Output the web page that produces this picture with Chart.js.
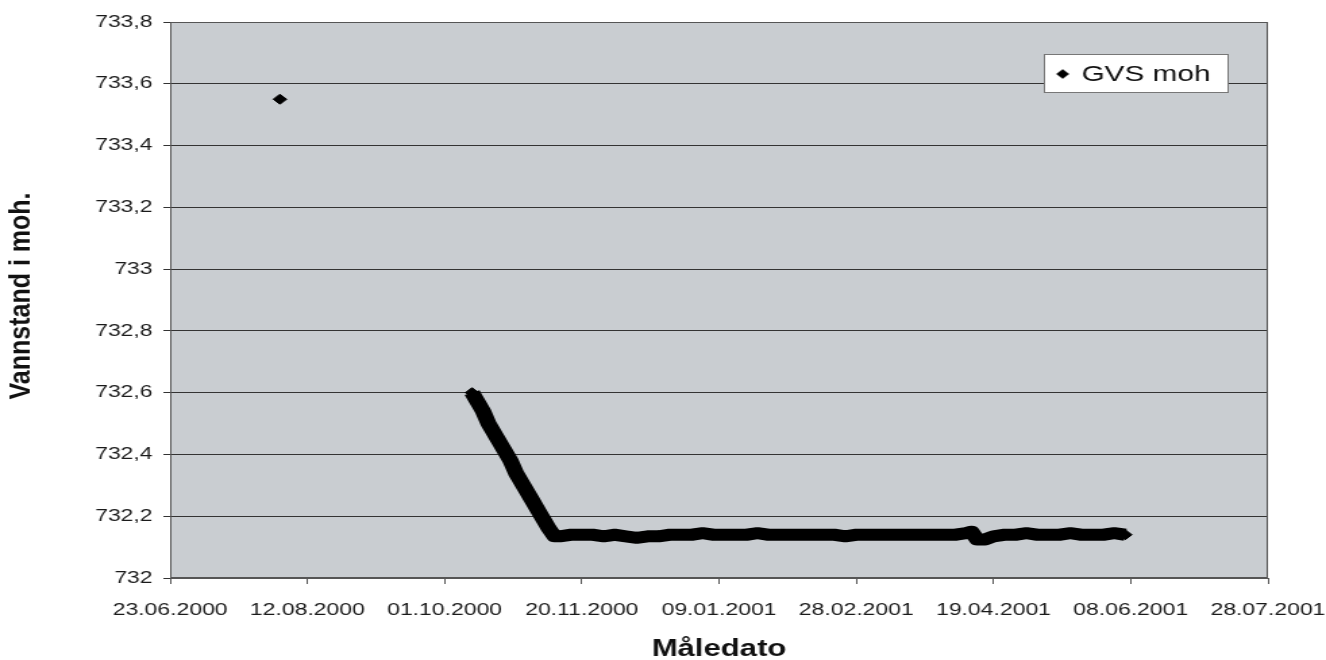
<!DOCTYPE html>
<html>
<head>
<meta charset="utf-8">
<script src="https://cdn.jsdelivr.net/npm/chart.js@4.4.1/dist/chart.umd.min.js"></script>
<style>
  html, body { margin: 0; padding: 0; background: #fff; overflow: hidden; }
  /* the scanned original is stretched sideways, so the chart is drawn narrow and widened */
  #wrap { width: 982px; height: 660px; transform: scaleX(1.3503); transform-origin: 0 0; }
</style>
</head>
<body>
<div id="wrap"><canvas id="gvsChart"></canvas></div>
<script>
// days counted from 23.06.2000
const xTickLabels = ['23.06.2000', '12.08.2000', '01.10.2000', '20.11.2000', '09.01.2001',
    '28.02.2001', '19.04.2001', '08.06.2001', '28.07.2001'];

const measureDays = [40, 75,
    110, 112, 114, 116, 118, 120, 122, 124, 126, 128, 130, 132, 134, 136, 138, 140,
    142, 146, 150, 154, 158, 162, 166, 170, 174, 178, 182, 186, 190, 194, 198, 202,
    206, 210, 214, 218, 222, 226, 230, 234, 238, 242, 246, 250, 254, 258, 262, 266,
    270, 274, 278, 282, 286, 290, 292, 294, 297, 300, 304, 308, 312, 316, 320, 324,
    328, 332, 336, 340, 344, 348];

const gvsLevels = [733.55, null,
    732.60, 732.57, 732.54, 732.50, 732.47, 732.44, 732.41, 732.38, 732.34, 732.31,
    732.28, 732.25, 732.22, 732.19, 732.16, 732.135,
    732.135, 732.14, 732.14, 732.14, 732.135, 732.14, 732.135, 732.13, 732.135, 732.135,
    732.14, 732.14, 732.14, 732.145, 732.14, 732.14, 732.14, 732.14, 732.145, 732.14,
    732.14, 732.14, 732.14, 732.14, 732.14, 732.14, 732.135, 732.14, 732.14, 732.14,
    732.14, 732.14, 732.14, 732.14, 732.14, 732.14, 732.14, 732.145, 732.15, 732.125,
    732.125, 732.135, 732.14, 732.14, 732.145, 732.14, 732.14, 732.14, 732.145, 732.14,
    732.14, 732.14, 732.145, 732.14];

const points = measureDays.map((d, i) => ({ x: d, y: gvsLevels[i] }));

const FONT = '"Liberation Sans", Arial, Helvetica, sans-serif';

// plot background + frame
const plotFrame = {
    id: 'plotFrame',
    beforeDraw(chart) {
        const { ctx, chartArea: a } = chart;
        ctx.save();
        ctx.fillStyle = '#c9cdd1';
        ctx.fillRect(a.left, a.top, a.right - a.left, a.bottom - a.top);
        ctx.restore();
    },
    afterDatasetsDraw(chart) {
        const { ctx, chartArea: a } = chart;
        ctx.save();
        ctx.strokeStyle = '#555';
        ctx.lineWidth = 1;
        ctx.strokeRect(a.left + 0.5, a.top + 0.5, a.right - a.left - 1, a.bottom - a.top - 1);
        ctx.restore();
    }
};

// legend box inside the plot (top right) and the y title
const extraText = {
    id: 'extraText',
    afterDraw(chart) {
        const ctx = chart.ctx;
        const ds = chart.data.datasets[0];
        ctx.save();
        ctx.fillStyle = '#fff';
        ctx.fillRect(773, 54, 136, 38);
        ctx.strokeStyle = '#777';
        ctx.lineWidth = 1;
        ctx.strokeRect(773.5, 54.5, 136, 38);
        Chart.helpers.drawPoint(ctx, { pointStyle: 'rectRot', radius: 4.5, borderWidth: 1 }, 787, 74);
        ctx.fillStyle = '#000';
        ctx.fill();
        ctx.font = '22px ' + FONT;
        ctx.fillStyle = '#111';
        ctx.textBaseline = 'middle';
        ctx.fillText(ds.label, 801, 75);

        // y title: undo most of the sideways stretch so the glyphs keep their shape
        ctx.translate(16, 296);
        ctx.scale(0.85, 1);
        ctx.rotate(-Math.PI / 2);
        ctx.textAlign = 'center';
        ctx.font = 'bold 25px ' + FONT;
        ctx.fillText('Vannstand i moh.', 0, 0);
        ctx.restore();
    }
};

const ctx = document.getElementById('gvsChart').getContext('2d');
const gvsChart = new Chart(ctx, {
    type: 'scatter',
    data: {
        datasets: [{
            label: 'GVS moh',
            data: points,
            showLine: true,
            spanGaps: false,
            borderColor: '#000',
            backgroundColor: '#000',
            borderWidth: 12,
            borderJoinStyle: 'round',
            borderCapStyle: 'butt',
            pointStyle: 'rectRot',
            pointRadius: 5,
            pointBorderWidth: 1,
            tension: 0
        }]
    },
    options: {
        responsive: true,
        maintainAspectRatio: false,
        animation: false,
        devicePixelRatio: 1,
        layout: { padding: { top: 22, right: 43, left: 0, bottom: 0 } },
        plugins: {
            legend: { display: false },
            tooltip: { enabled: false }
        },
        scales: {
            x: {
                type: 'linear',
                min: 0,
                max: 400,
                afterFit(scale) {
                    scale.height = 82;
                    scale.paddingLeft = 0;
                    scale.paddingRight = 0;
                },
                afterBuildTicks(scale) {
                    scale.ticks = xTickLabels.map((t, i) => ({ value: i * 50 }));
                },
                ticks: {
                    autoSkip: false,
                    maxRotation: 0,
                    padding: 16,
                    color: '#1a1a1a',
                    font: { family: FONT, size: 17 },
                    callback: (v) => xTickLabels[Math.round(v / 50)]
                },
                grid: {
                    drawOnChartArea: false,
                    drawTicks: true,
                    tickLength: 6,
                    color: '#555'
                },
                border: { color: '#555' },
                title: {
                    display: true,
                    text: 'Måledato',
                    color: '#111',
                    font: { family: FONT, size: 23, weight: 'bold' },
                    padding: { top: 8, bottom: -3 }
                }
            },
            y: {
                min: 732,
                max: 733.8,
                afterFit(scale) {
                    scale.width = 126;
                    scale.paddingTop = 0;
                    scale.paddingBottom = 0;
                },
                ticks: {
                    stepSize: 0.2,
                    padding: 8,
                    color: '#1a1a1a',
                    font: { family: FONT, size: 17 },
                    callback: (v) => String(Number(v.toFixed(1))).replace('.', ',')
                },
                grid: {
                    color: '#333',
                    lineWidth: 1,
                    tickLength: 5
                },
                border: { color: '#555' },
                title: { display: false }
            }
        }
    },
    plugins: [plotFrame, extraText]
});
</script>
</body>
</html>
